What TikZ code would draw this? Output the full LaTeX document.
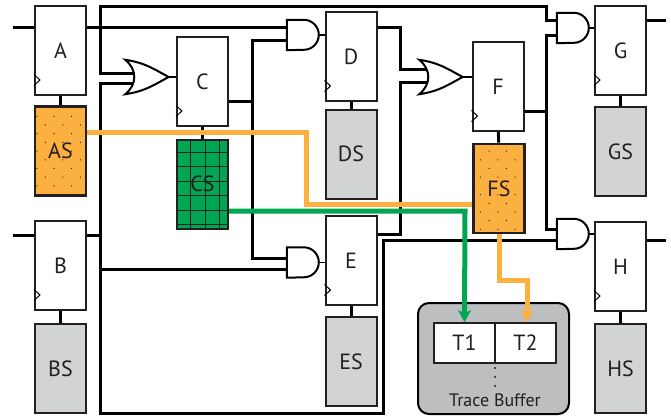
\documentclass[tikz,border=0pt]{standalone}
\usepackage{fontspec}
\setmainfont{PT Sans}
\usetikzlibrary{arrows.meta,patterns.meta}
\definecolor{tapeorange}{HTML}{FBB040}
\definecolor{tapegreen}{HTML}{00A651}
\definecolor{shadowgray}{HTML}{D1D3D4}
\definecolor{buffergray}{HTML}{BCBEC0}
\definecolor{inkgray}{HTML}{231F20}
\tikzset{
    regbox/.style = {draw = inkgray, line width = 2pt, fill = white, text = inkgray,
        minimum width = 51pt, minimum height = 89pt, inner sep = 0pt,
        font = \fontsize{22}{26}\selectfont},
    shadowbox/.style = {regbox, fill = shadowgray},
    dotbox/.style = {regbox, line width = 2.6pt, preaction = {fill = tapeorange},
        fill = none, pattern = {Dots[angle = 45, distance = 12.3pt, radius = 0.7pt, xshift = 2pt, yshift = 3pt]},
        pattern color = inkgray},
    greenbox/.style = {regbox, fill = tapegreen},
    cellbox/.style = {regbox, line width = 1.6pt, minimum width = 61pt, minimum height = 40pt},
    andbox/.style = {minimum width = 32pt, minimum height = 30pt, inner sep = 0pt},
    orbox/.style = {minimum width = 43pt, minimum height = 34pt, inner sep = 0pt},
    gateline/.style = {draw = black, line width = 2pt, fill = white},
    wire/.style = {draw = black, line width = 3pt},
    tap/.style = {line width = 5pt},
    tip/.style = {-{Stealth[length = 12pt, width = 13pt, inset = 3pt]}}
}
\newcommand{\andshape}[1]{
    \draw [gateline] (#1.north west) -- ++(17pt, 0pt) arc [start angle = 90, end angle = -90, radius = 15pt] -- (#1.south west) -- cycle;
}
\newcommand{\orshape}[1]{
    \draw [gateline] (#1.north west) .. controls +(20, 3) and +(-15, -8) .. (#1.east)
        .. controls +(-15, 8) and +(20, -3) .. (#1.south west)
        .. controls +(12, -10) and +(12, 10) .. (#1.north west) -- cycle;
}
\begin{document}
\begin{tikzpicture}[x = 1pt, y = -1pt]
    \useasboundingbox (0, 0) rectangle (671, 415);

    \node [regbox] (a) at (60.5, 50.5) {A};
    \node [regbox] (b) at (60.5, 265.5) {B};
    \node [regbox] (c) at (202.5, 81.5) {C};
    \node [regbox] (d) at (351, 56.5) {D};
    \node [regbox] (e) at (351, 260.5) {E};
    \node [regbox] (f) at (498, 86.5) {F};
    \node [regbox] (g) at (620.5, 50.5) {G};
    \node [regbox] (h) at (620.5, 266.5) {H};

    \node [dotbox] (as) at (60.5, 151) {AS};
    \node [shadowbox] (bs) at (60.5, 368.5) {BS};
    \node [shadowbox] (ds) at (351, 154) {DS};
    \node [shadowbox] (es) at (351, 361.5) {ES};
    \node [dotbox] (fs) at (499, 188.5) {FS};
    \node [shadowbox] (gs) at (620.5, 151.5) {GS};
    \node [shadowbox] (hs) at (620.5, 368.5) {HS};

    \node [greenbox] (cs) at (202.5, 184) {};
    \draw [inkgray, line width = 0.7pt, shift = {(190.7, 152)}, step = 14.5pt] (-13.7, -12) grid (37.3, 76);
    \node [text = inkgray, font = \fontsize{22}{26}\selectfont] (cslabel) at (cs) {CS};

    \node [andbox] (andd) at (303, 35) {};
    \node [andbox] (ande) at (303, 262.5) {};
    \node [andbox] (andg) at (573, 28) {};
    \node [andbox] (andh) at (573, 234) {};
    \node [orbox] (orc) at (147, 77) {};
    \node [orbox] (orf) at (441, 77) {};

    \node [draw = black, line width = 2pt, fill = buffergray, rounded corners = 11pt,
        minimum width = 151pt, minimum height = 111pt] (buffer) at (493.5, 358.5) {};
    \node [cellbox] (t1) at (464.5, 343) {T1};
    \node [cellbox] (t2) at (525.5, 343) {T2};
    \node [text = inkgray, font = \fontsize{18}{21}\selectfont] (tracename) at (495, 400) {Trace Buffer};
    \fill [inkgray]
        (495, 368) circle [radius = 1.1pt]
        (495, 377) circle [radius = 1.1pt]
        (495, 386) circle [radius = 1.1pt]
    ;

    \coordinate (ina) at (13, 27);
    \coordinate (inb) at (13, 235);
    \coordinate (outg) at (666, 20);
    \coordinate (outh) at (666, 240);
    \coordinate (topleft) at (100, 6);
    \coordinate (topright) at (546, 6);
    \coordinate (outb) at (100, 235);
    \coordinate (bottomleft) at (100, 413);
    \coordinate (bottomright) at (383, 413);
    \coordinate (outc) at (252, 101);
    \coordinate (outd) at (400, 27);
    \coordinate (oute) at (400, 234);
    \coordinate (outf) at (546, 111);

    \coordinate (orctop) at (135, 73);
    \coordinate (orcbot) at (135, 83);
    \coordinate (orftop) at (428, 69);
    \coordinate (orfbot) at (428, 82);
    \coordinate (anddtop) at (287, 27);
    \coordinate (anddbot) at (287, 40);
    \coordinate (andetop) at (287, 258);
    \coordinate (andebot) at (287, 269);
    \coordinate (andgtop) at (557, 20);
    \coordinate (andgbot) at (557, 35);
    \coordinate (andhtop) at (557, 229);
    \coordinate (andhbot) at (557, 240);

    \draw [wire]
        (ina) -- (ina -| a.west)
        (inb) -- (inb -| b.west)
        (a.east |- anddtop) -- (anddtop)
        (b.east |- outb) -- (outb)
        (orctop) -| (topleft) -- (topright) |- (andgtop)
        (orcbot) -| (bottomleft) -- (bottomright) |- (andhbot)
        (outb |- andebot) -- (andebot)
        (c.east |- outc) -- (outc)
        (anddbot) -| (outc) |- (andetop)
        (d.east |- outd) -- (outd) |- (orftop)
        (e.east |- oute) -- (oute) |- (orfbot)
        (f.east |- outf) -- (outf)
        (andgbot) -| (outf) |- (andhtop)
        (g.east |- outg) -- (outg)
        (h.east |- outh) -- (outh)
        (a) edge (as)
        (b) edge (bs)
        (c) edge (cs)
        (d) edge (ds)
        (e) edge (es)
        (f) edge (fs)
        (g) edge (gs)
        (h) edge (hs)
    ;
    \orshape{orc}
    \orshape{orf}
    \andshape{andd}
    \andshape{ande}
    \andshape{andg}
    \andshape{andh}
    \draw [line width = 1.7pt]
        (orc.east) -- (orc.east -| c.west)
        (orf.east) -- (orf.east -| f.west)
        (andd.east) -- (andd.east -| d.west)
        (ande.east) -- (ande.east -| e.west)
        (andg.east) -- (andg.east -| g.west)
        (andh.east) -- (andh.east -| h.west)
    ;
    \draw [line width = 1pt]
        (a.south west) ++(0, -10.5) -- ++(6, -5.5) -- ++(-6, -5.5)
        (b.south west) ++(0, -10.5) -- ++(6, -5.5) -- ++(-6, -5.5)
        (c.south west) ++(0, -10.5) -- ++(6, -5.5) -- ++(-6, -5.5)
        (d.south west) ++(0, -10.5) -- ++(6, -5.5) -- ++(-6, -5.5)
        (e.south west) ++(0, -10.5) -- ++(6, -5.5) -- ++(-6, -5.5)
        (f.south west) ++(0, -10.5) -- ++(6, -5.5) -- ++(-6, -5.5)
        (g.south west) ++(0, -10.5) -- ++(6, -5.5) -- ++(-6, -5.5)
        (h.south west) ++(0, -10.5) -- ++(6, -5.5) -- ++(-6, -5.5)
    ;

    \coordinate (tapas) at (306, 132);
    \coordinate (tapfs) at (306, 204);
    \coordinate (tapcs) at (465, 211);
    \coordinate (tapdrop) at (527, 280);

    \draw [tap, draw = tapeorange] (tapas -| as.east) -- (tapas) -- (tapfs) -- (tapfs -| fs.west);
    \draw [tap, tip, draw = tapegreen] (tapcs -| cs.east) -- (tapcs) -- (t1.north);
    \draw [tap, tip, draw = tapeorange] (fs.south) |- (tapdrop) -- (tapdrop |- t2.north);
\end{tikzpicture}
\end{document}
